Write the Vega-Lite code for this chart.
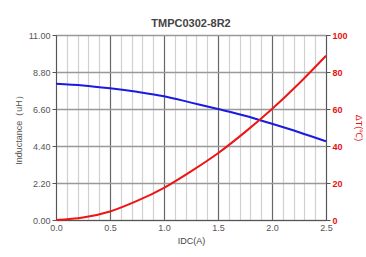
{
  "$schema": "https://vega.github.io/schema/vega-lite/v6.json",
  "autosize": "none",
  "width": 270,
  "height": 185,
  "padding": {"left": 56, "top": 35, "right": 40, "bottom": 37},
  "background": "white",
  "title": {"text": "TMPC0302-8R2", "font": "Liberation Sans", "fontSize": 11, "fontWeight": "bold", "color": "#444", "offset": 2},
  "config": {
    "view": {"stroke": "#555", "strokeWidth": 1},
    "axis": {"labelFont": "Liberation Sans", "titleFont": "Liberation Sans", "labelFontSize": 9, "titleFontSize": 9, "titleFontWeight": "normal", "labelFlush": false}
  },
  "data": {"values": [
    {"I": 0.0, "L": 8.10, "T": 0.0},
    {"I": 0.25, "L": 8.00, "T": 1.3},
    {"I": 0.5, "L": 7.83, "T": 4.6},
    {"I": 0.75, "L": 7.62, "T": 10.3},
    {"I": 1.0, "L": 7.36, "T": 17.4},
    {"I": 1.25, "L": 6.98, "T": 26.3},
    {"I": 1.5, "L": 6.60, "T": 36.1},
    {"I": 1.75, "L": 6.20, "T": 47.5},
    {"I": 2.0, "L": 5.72, "T": 60.0},
    {"I": 2.25, "L": 5.22, "T": 73.8},
    {"I": 2.5, "L": 4.68, "T": 88.8}
  ]},
  "encoding": {
    "x": {"field": "I", "type": "quantitative", "title": "IDC(A)",
      "scale": {"domain": [0, 2.5], "nice": false},
      "axis": {
        "values": [0,0.1,0.2,0.3,0.4,0.5,0.6,0.7,0.8,0.9,1.0,1.1,1.2,1.3,1.4,1.5,1.6,1.7,1.8,1.9,2.0,2.1,2.2,2.3,2.4,2.5],
        "labelExpr": "abs(datum.value*2-round(datum.value*2))<0.01 ? format(datum.value,'.1f') : ''",
        "grid": true,
        "gridColor": {"condition": {"test": "abs(datum.value*2-round(datum.value*2))<0.01", "value": "#666"}, "value": "#d0d0d0"},
        "gridOpacity": 1,
        "gridWidth": 1.2,
        "ticks": false,
        "domainColor": "#555",
        "labelColor": "#555",
        "titleColor": "#444",
        "labelPadding": 3,
        "titlePadding": 4
      }}
  },
  "layer": [
    {
      "mark": {"type": "line", "color": "#1a1ae0", "strokeWidth": 2, "interpolate": "monotone"},
      "encoding": {
        "y": {"field": "L", "type": "quantitative", "title": "Inductance（uH）",
          "scale": {"domain": [0, 11], "nice": false},
          "axis": {"values": [0, 2.2, 4.4, 6.6, 8.8, 11], "format": ".2f", "grid": true, "gridColor": "#999", "gridWidth": 1.5, "gridOpacity": 1,
            "tickColor": "#555", "tickSize": 4, "domainColor": "#555", "labelColor": "#555", "titleColor": "#555", "titlePadding": 5, "labelPadding": 2}}
      }
    },
    {
      "mark": {"type": "line", "color": "#ee1515", "strokeWidth": 2, "interpolate": "monotone"},
      "encoding": {
        "y": {"field": "T", "type": "quantitative", "title": "ΔT(℃)",
          "scale": {"domain": [0, 100], "nice": false},
          "axis": {"orient": "right", "values": [0, 20, 40, 60, 80, 100], "grid": false,
            "tickColor": "#555", "tickSize": 4, "domainColor": "#555", "labelColor": "#e81010", "labelFontWeight": "bold", "titleColor": "#e81010", "titlePadding": 6, "labelPadding": 2}}
      }
    }
  ],
  "resolve": {"scale": {"y": "independent"}}
}
